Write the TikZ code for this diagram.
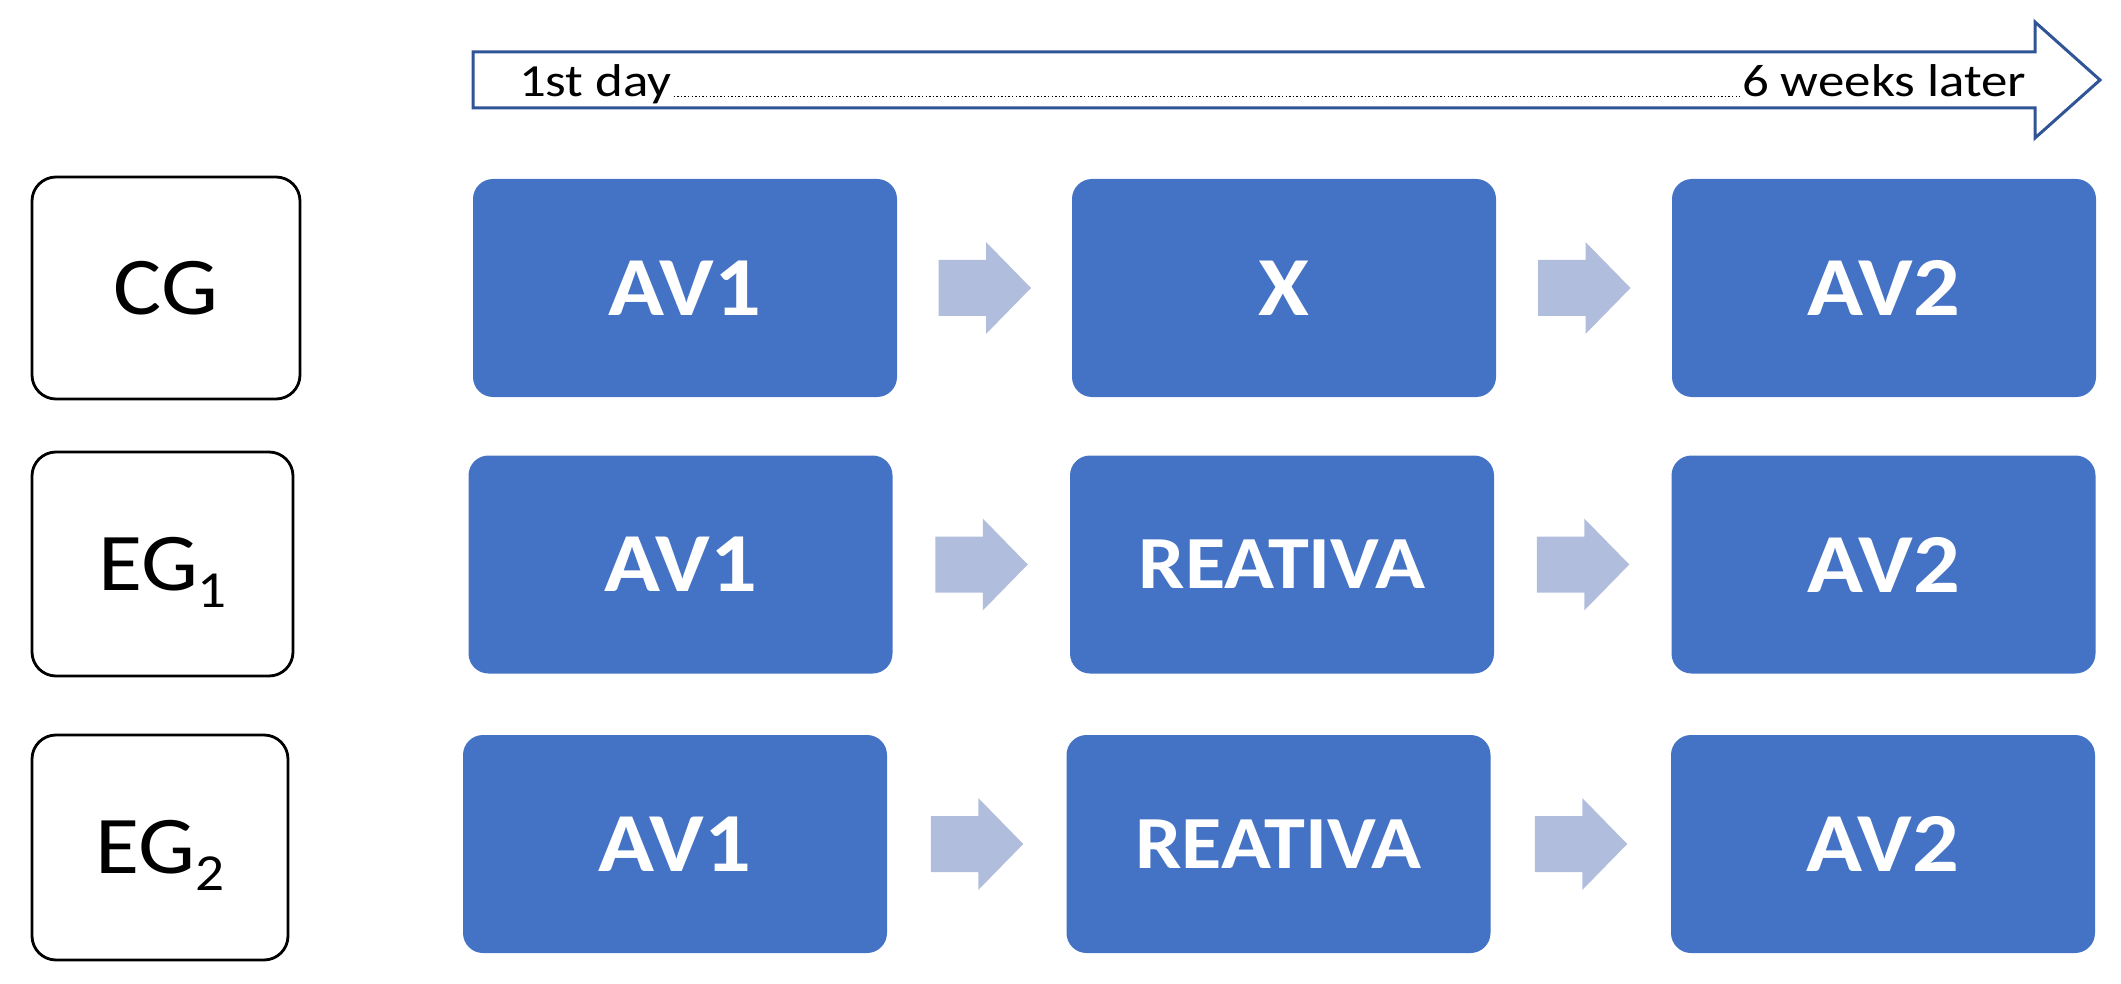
\documentclass[tikz,border=0pt]{standalone}
\usepackage{fontspec}
\setmainfont{Carlito}
\newfontfamily\cfont[FakeStretch=1.1]{Carlito}
\newfontfamily\tfont[FakeStretch=1.15]{Carlito}
\usetikzlibrary{calc}
\definecolor{boxblue}{RGB}{68,114,196}
\definecolor{arrblue}{RGB}{176,189,221}
\definecolor{lineblue}{RGB}{47,85,151}
\tikzset{
  bluebox/.style={fill=boxblue, rounded corners=10pt, minimum width=212pt, minimum height=109pt,
    inner sep=0pt, outer sep=0pt, text=white, font=\cfont\bfseries\fontsize{42}{50}\selectfont},
  smalltxt/.style={font=\cfont\bfseries\fontsize{37.5}{45}\selectfont},
  groupbox/.style={draw=black, line width=1.4pt, rounded corners=12pt, inner sep=0pt, outer sep=0pt,
    font=\cfont\fontsize{41}{49}\selectfont},
  timetxt/.style={inner sep=0pt, outer sep=0pt, font=\tfont\fontsize{23}{28}\selectfont},
  dotline/.style={line width=0.9pt, dash pattern=on 0.7pt off 1.1pt},
  blk/.pic={\fill[arrblue] (-46,-28) -- (1.5,-28) -- (1.5,-46) -- (46.5,0) -- (1.5,46) -- (1.5,28) -- (-46,28) -- cycle;}
}
\newcommand{\mysub}[1]{\raisebox{-8.5pt}[0pt][0pt]{\fontsize{26}{30}\selectfont #1}}
\begin{document}
\begin{tikzpicture}[x=0.5pt,y=-0.5pt]
\useasboundingbox (0,0) rectangle (2121,984);
% timeline arrow
\draw[lineblue, line width=1.5pt, line join=miter]
  (473,52) -- (2035,52) -- (2035,22) -- (2100,80) -- (2035,138) -- (2035,108) -- (473,108) -- cycle;
\node[timetxt, anchor=base west] (d1) at (519,96.5) {1st day};
\node[timetxt, anchor=base east] (d2) at (2026,96.5) {6 weeks later};
\draw[dotline] ([xshift=1pt]d1.base east) -- ([xshift=-1pt]d2.base west);
% group labels
\node[groupbox, minimum width=134pt, minimum height=111pt] (cg) at (166,288) {CG};
\node[groupbox, minimum width=130.5pt, minimum height=112pt] (eg1) at (162.5,564) {EG\mysub{1}};
\node[groupbox, minimum width=128pt, minimum height=112.5pt] (eg2) at (160,847.5) {EG\mysub{2}};
% row 1
\node[bluebox] (a1) at (685,288) {AV1};
\node[bluebox] (x1) at (1284,288) {X};
\node[bluebox] (b1) at (1884,288) {AV2};
% row 2
\node[bluebox] (a2) at (680.5,564.5) {AV1};
\node[bluebox, smalltxt] (r2) at (1282,564.5) {REATIVA};
\node[bluebox] (b2) at (1883.5,564.5) {AV2};
% row 3
\node[bluebox] (a3) at (675,844) {AV1};
\node[bluebox, smalltxt] (r3) at (1278.5,844) {REATIVA};
\node[bluebox] (b3) at (1883,844) {AV2};
% block arrows
\pic at ($(a1.east)!0.5!(x1.west)$) {blk};
\pic at ($(x1.east)!0.5!(b1.west)$) {blk};
\pic at ($(a2.east)!0.5!(r2.west)$) {blk};
\pic at ($(r2.east)!0.5!(b2.west)$) {blk};
\pic at ($(a3.east)!0.5!(r3.west)$) {blk};
\pic at ($(r3.east)!0.5!(b3.west)$) {blk};
\end{tikzpicture}
\end{document}
